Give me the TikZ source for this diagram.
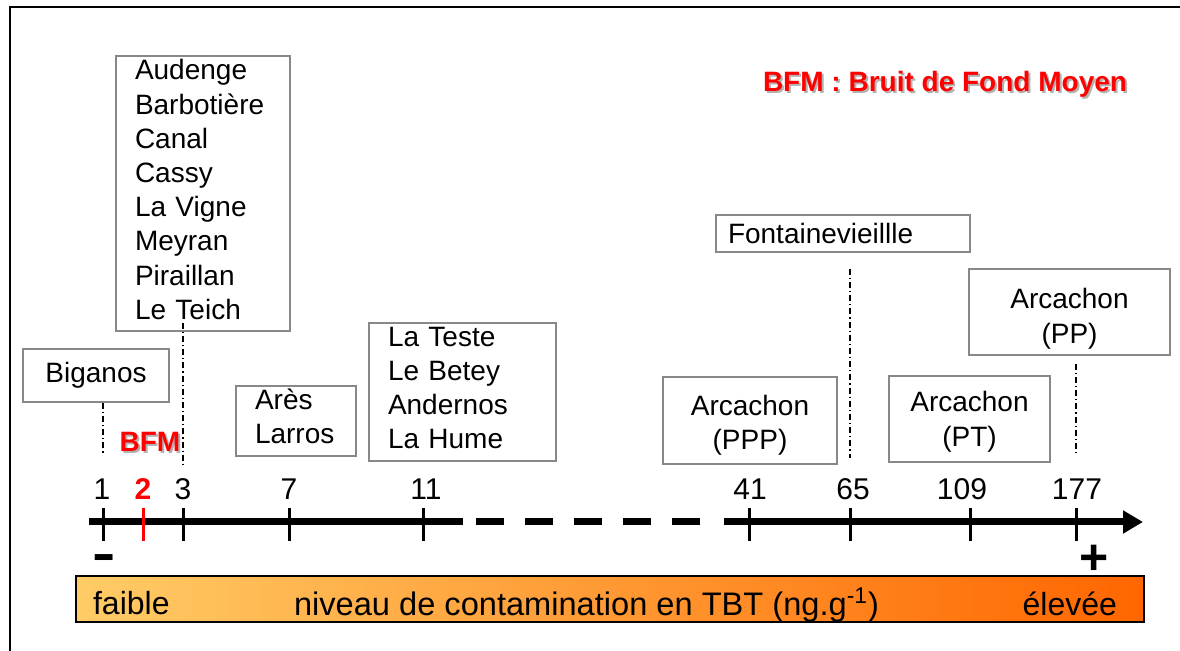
\documentclass[tikz,border=0pt]{standalone}
\usepackage{fontspec}
\usepackage{graphicx}
\setmainfont{Liberation Sans}
\usetikzlibrary{arrows.meta}
\definecolor{bfmred}{HTML}{FF0000}
\definecolor{boxgray}{HTML}{888888}
\definecolor{barlight}{HTML}{FFCC66}
\definecolor{bardark}{HTML}{FF6600}
\newcommand{\shadowed}[1]{\makebox[0pt][l]{\hspace{1pt}\raisebox{-1pt}{\color{black!30}#1}}#1}
\newcommand{\lift}[1]{\rule[-#1]{0pt}{#1}}
\tikzset{
  sitebox/.style={draw=boxgray,line width=0.75pt,fill=white,inner sep=0pt,font=\fontsize{14}{17.1}\selectfont},
  leader/.style={line width=0.6pt,dash pattern=on 3pt off 1.5pt on 0.6pt off 1.5pt},
  ticklabel/.style={anchor=base,font=\fontsize{15}{18}\selectfont},
  axisline/.style={line width=3.5pt},
  bartext/.style={anchor=base,font=\fontsize{16}{18}\selectfont},
  sign/.style={anchor=base,font=\fontsize{25}{25}\selectfont\bfseries},
}
\begin{document}
\begin{tikzpicture}[x=0.5pt,y=-0.5pt]
    \useasboundingbox (0,0) rectangle (1180,651);
    \draw[line width=1pt] (10,651) -- (10,7) -- (1180,7);
    \node[text=bfmred,font=\fontsize{14}{17}\selectfont\bfseries] (title) at (945,85) {\shadowed{BFM : Bruit de Fond Moyen}};

    % axe
    \coordinate (a0) at (89,522);
    \coordinate (a1) at (463,522);
    \coordinate (d0) at (476,522);
    \coordinate (d1) at (702,522);
    \coordinate (b0) at (724,522);
    \coordinate (b1) at (1143,522);
    \draw[axisline] (a0) -- (a1);
    \draw[axisline,dash pattern=on 14pt off 10.5pt] (d0) -- (d1);
    \draw[axisline,-{Triangle[length=10pt,width=11pt]}] (b0) -- (b1);
    \foreach \x/\lx/\v in {103/102/1,183/183/3,289/289/7,423/426/11,749/750/41,850/853/65,970/962/109,1076/1077/177} {
        \coordinate (t\v) at (\x,522);
        \draw[line width=1.5pt] (\x,508) -- (\x,541);
        \node[ticklabel] (n\v) at (\lx,500) {\v};
    }
    \coordinate (t2) at (143,522);
    \draw[line width=1.5pt,bfmred] (143,508) -- (143,541);
    \node[ticklabel,text=bfmred,font=\fontsize{15}{18}\selectfont\bfseries] (n2) at (143,500) {2};
    \node[text=bfmred,font=\fontsize{14}{17}\selectfont\bfseries] (bfm) at (150,443) {\shadowed{BFM}};
    \node[sign] (moins) at (104,571) {\scalebox{1.4}[1]{-}};
    \node[sign] (plus) at (1094,575) {+};

    % sites
    \node[sitebox,minimum width=87pt,minimum height=137.5pt,text width=68pt,align=left] (liste) at (203,193.5)
        {Audenge\\Barbotière\\Canal\\Cassy\\La Vigne\\Meyran\\Piraillan\\Le Teich\lift{4pt}};
    \node[sitebox,minimum width=73pt,minimum height=26.5pt] (biganos) at (96,375.5) {\rule{0pt}{3pt}Biganos};
    \node[sitebox,minimum width=60pt,minimum height=35pt,text width=41pt,align=left] (ares) at (296,421) {Arès\\Larros\lift{5pt}};
    \node[sitebox,minimum width=93.5pt,minimum height=69pt,text width=74.5pt,align=left] (teste) at (462.5,392)
        {La Teste\\Le Betey\\Andernos\\La Hume\lift{4pt}};
    \node[sitebox,minimum width=127pt,minimum height=18.5pt,text width=115pt,align=left] (fontaine) at (843,233.5) {Fontainevieillle};
    \node[sitebox,minimum width=87pt,minimum height=43.5pt,align=center] (ppp) at (750,420.5) {\rule{0pt}{15pt}Arcachon\\(PPP)};
    \node[sitebox,minimum width=80.5pt,minimum height=43pt,align=center] (pt) at (969.5,419) {\rule{0pt}{13pt}Arcachon\\(PT)};
    \node[sitebox,minimum width=100.5pt,minimum height=43pt,align=center] (pp) at (1069.5,312) {\rule{0pt}{17pt}Arcachon\\(PP)};

    \draw[leader] (biganos.south -| t1) -- ++(0,52);
    \draw[leader] ([yshift=4.5pt]liste.south -| t3) -- ++(0,142);
    \draw[leader] ([yshift=-8pt]fontaine.south -| t65) -- ++(0,189);
    \draw[leader] ([yshift=-4pt]pp.south -| t177) -- ++(0,92);

    % barre
    \draw[line width=0.75pt,left color=barlight,right color=bardark] (76,576) rectangle (1144,622);
    \node[bartext,anchor=base west] (faible) at (86,615) {faible};
    \node[bartext,anchor=base west,font=\fontsize{16.3}{18}\selectfont] (niveau) at (287,616) {niveau de contamination en TBT (ng.g\textsuperscript{-1})};
    \node[bartext,anchor=base east] (elevee) at (1124,616) {élevée};
\end{tikzpicture}
\end{document}
